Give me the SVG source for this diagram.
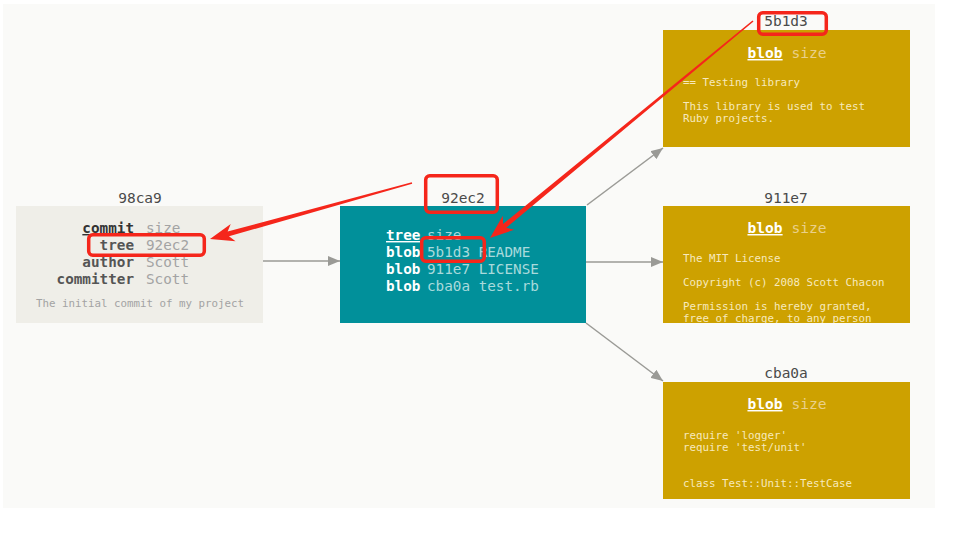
<svg xmlns="http://www.w3.org/2000/svg" width="965" height="533" viewBox="0 0 965 533">
<defs>
<style>
text{font-family:"DejaVu Sans Mono","Liberation Mono",monospace}
.lbl{font-size:14.5px;fill:#4a4a4a;text-anchor:middle}
.ck{font-size:14.3px;font-weight:bold;fill:#555;text-anchor:end}
.cv{font-size:14.3px;fill:#a3a3a3}
.tk{font-size:14.3px;font-weight:bold;fill:#fff}
.tv{font-size:14.3px;fill:#a9dadc}
.bh{font-size:14.6px;text-anchor:middle}
.bk{font-weight:bold;fill:#fff;text-decoration:underline}
.bv{fill:#ead08a}
.bt{font-size:10.8px;fill:#f7e9bd}
.conn{stroke:#9a9a96;stroke-width:1.5;fill:none}
.red{fill:none;stroke:#f5261b;stroke-width:3.5}
.redf{fill:#f5261b}
</style>
<marker id="ah" viewBox="0 0 12 10" refX="12" refY="5" markerWidth="12" markerHeight="10" markerUnits="userSpaceOnUse" orient="auto">
<path d="M0,0 L12,5 L0,10 z" fill="#9a9a96"/>
</marker>
<clipPath id="cb2"><rect x="663" y="206" width="247" height="117"/></clipPath>
</defs>
<rect x="0" y="0" width="965" height="533" fill="#ffffff"/>
<rect x="3" y="4" width="932" height="504" fill="#fafaf8"/>

<g id="commit-98ca9">
<rect x="16" y="206" width="247" height="117" fill="#efeee8"/>
<text class="lbl" x="140" y="203">98ca9</text>
<text class="ck" x="134" y="233" style="fill:#333;text-decoration:underline">commit</text><text class="cv" x="146" y="233">size</text>
<text class="ck" x="134" y="250">tree</text><text class="cv" x="146" y="250">92ec2</text>
<text class="ck" x="134" y="267">author</text><text class="cv" x="146" y="267">Scott</text>
<text class="ck" x="134" y="284">committer</text><text class="cv" x="146" y="284">Scott</text>
<text x="140" y="307" style="font-size:10.8px;fill:#a3a3a3;text-anchor:middle">The initial commit of my project</text>
</g>

<g id="tree-92ec2">
<rect x="340" y="206" width="246" height="117" fill="#01909a"/>
<text class="lbl" x="463" y="203">92ec2</text>
<text class="tk" x="386" y="240" style="text-decoration:underline">tree</text><text class="tv" x="427" y="240">size</text>
<text class="tk" x="386" y="257">blob</text><text class="tv" x="427" y="257">5b1d3 README</text>
<text class="tk" x="386" y="274">blob</text><text class="tv" x="427" y="274">911e7 LICENSE</text>
<text class="tk" x="386" y="291">blob</text><text class="tv" x="427" y="291">cba0a test.rb</text>
</g>

<g id="blob-5b1d3">
<rect x="663" y="30" width="247" height="117" fill="#cda100"/>
<text class="lbl" x="786" y="26">5b1d3</text>
<text class="bh" x="787" y="58"><tspan class="bk">blob</tspan><tspan class="bv"> size</tspan></text>
<text class="bt" x="683" y="86">== Testing library</text>
<text class="bt" x="683" y="110">This library is used to test</text>
<text class="bt" x="683" y="122">Ruby projects.</text>
</g>

<g id="blob-911e7">
<rect x="663" y="206" width="247" height="117" fill="#cda100"/>
<text class="lbl" x="786" y="203">911e7</text>
<text class="bh" x="787" y="233"><tspan class="bk">blob</tspan><tspan class="bv"> size</tspan></text>
<g clip-path="url(#cb2)">
<text class="bt" x="683" y="262">The MIT License</text>
<text class="bt" x="683" y="286">Copyright (c) 2008 Scott Chacon</text>
<text class="bt" x="683" y="310">Permission is hereby granted,</text>
<text class="bt" x="683" y="322">free of charge, to any person</text>
</g>
</g>

<g id="blob-cba0a">
<rect x="663" y="382" width="247" height="117" fill="#cda100"/>
<text class="lbl" x="786" y="378">cba0a</text>
<text class="bh" x="787" y="409"><tspan class="bk">blob</tspan><tspan class="bv"> size</tspan></text>
<text class="bt" x="683" y="439">require 'logger'</text>
<text class="bt" x="683" y="451">require 'test/unit'</text>
<text class="bt" x="683" y="487">class Test::Unit::TestCase</text>
</g>

<g id="connectors">
<line class="conn" x1="263" y1="261" x2="340" y2="261" marker-end="url(#ah)"/>
<line class="conn" x1="587" y1="205" x2="663" y2="148" marker-end="url(#ah)"/>
<line class="conn" x1="586" y1="262" x2="663" y2="262" marker-end="url(#ah)"/>
<line class="conn" x1="586" y1="323" x2="663" y2="381" marker-end="url(#ah)"/>
</g>

<g id="annotations">
<rect class="red" x="88.7" y="234.7" width="115.6" height="20.6" rx="4"/>
<rect class="red" x="425.7" y="175.7" width="71.6" height="36.6" rx="4"/>
<rect class="red" x="421.7" y="237.7" width="62.6" height="23.6" rx="4"/>
<rect class="red" x="758.7" y="12.7" width="67.6" height="21.6" rx="4"/>
<polygon class="redf" points="411.79,182.23 227.64,231.51 230.73,223.92 210,239 235.53,241.26 228.98,236.33 412.21,183.77"/>
<polygon class="redf" points="752.49,20.38 503.06,223.98 502.78,215.79 490,238 514.24,229.67 506.24,227.84 753.51,21.62"/>
</g>
</svg>
